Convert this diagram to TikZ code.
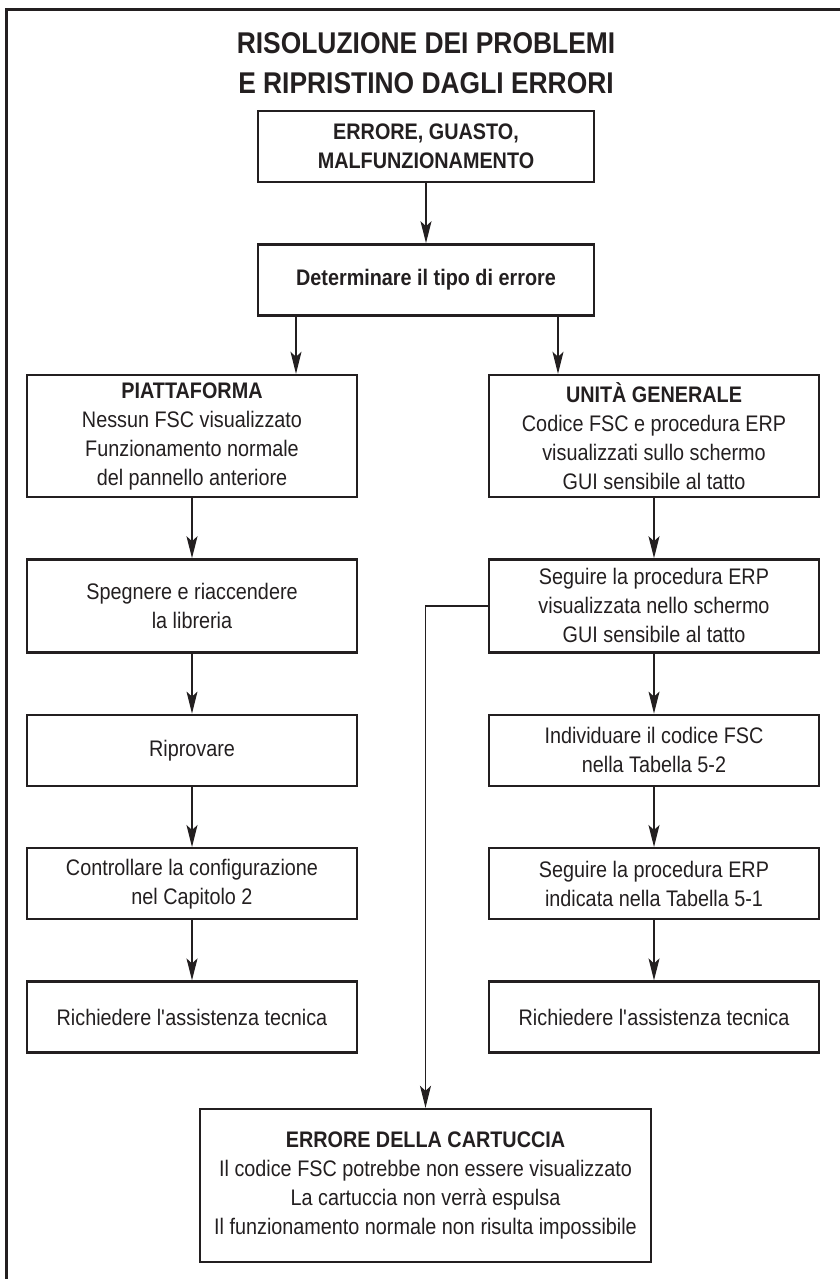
\documentclass[tikz,border=0pt]{standalone}
\usepackage{fontspec}
\setmainfont{Liberation Sans}[FakeStretch=0.88]
\usepackage{tikz}
\usetikzlibrary{positioning, arrows.meta}
\definecolor{ink}{RGB}{35,31,32}

\begin{document}
\begin{tikzpicture}[x=1pt, y=-1pt,
  every node/.style={inner sep=2pt},
  title/.style={font=\fontsize{30}{40}\selectfont\bfseries, text=ink,
                align=center},
  box/.style={draw=ink, line width=2.4pt, text=ink, align=center,
              font=\fontsize{22.5}{29}\selectfont},
  topbox/.style={box, minimum width=336pt, minimum height=71pt},
  sidebox/.style={box, minimum width=330pt, minimum height=71pt},
  headbox/.style={sidebox, minimum height=122pt},
  arrow/.style={-{Stealth[length=22pt, width=11pt, inset=5pt]}, ink,
                line width=1.3pt}]
\useasboundingbox (0,0) rectangle (840,1279);
\draw[ink, line width=3pt] (6,1279) -- (6,10) -- (840,10);

\node[title] (head) at (426,63) {RISOLUZIONE DEI PROBLEMI\\E RIPRISTINO DAGLI ERRORI};
\node[topbox, font=\fontsize{22.5}{29}\selectfont\bfseries] (fault) at (426,146.5)
  {ERRORE, GUASTO,\\MALFUNZIONAMENTO};
\node[topbox, font=\fontsize{22.5}{29}\selectfont\bfseries, below=60pt of fault] (detect)
  {Determinare il tipo di errore};
\draw[arrow] (fault) -- (detect);

% piattaforma
\node[headbox] (plat) at (192,436)
  {\textbf{PIATTAFORMA}\\Nessun FSC visualizzato\\Funzionamento normale\\del pannello anteriore};
\node[sidebox, minimum height=93pt, below=60pt of plat] (power)
  {Spegnere e riaccendere\\la libreria};
\node[sidebox, below=60pt of power] (retry) {Riprovare};
\node[sidebox, below=60pt of retry] (config)
  {Controllare la configurazione\\nel Capitolo 2};
\node[sidebox, below=60pt of config] (helpL) {Richiedere l\textquotesingle assistenza tecnica};
\draw[arrow] ([xshift=104pt]plat.north |- detect.south) -- ([xshift=104pt]plat.north);
\draw[arrow] (plat) -- (power);
\draw[arrow] (power) -- (retry);
\draw[arrow] (retry) -- (config);
\draw[arrow] (config) -- (helpL);

% unita generale
\node[headbox] (unit) at (654,436)
  {\textbf{UNITÀ GENERALE}\\Codice FSC e procedura ERP\\visualizzati sullo schermo\\GUI sensibile al tatto};
\node[sidebox, minimum height=93pt, below=60pt of unit] (erp)
  {Seguire la procedura ERP\\visualizzata nello schermo\\GUI sensibile al tatto};
\node[sidebox, below=60pt of erp] (code)
  {Individuare il codice FSC\\nella Tabella 5-2};
\node[sidebox, below=60pt of code] (table)
  {Seguire la procedura ERP\\indicata nella Tabella 5-1};
\node[sidebox, below=60pt of table] (helpR) {Richiedere l\textquotesingle assistenza tecnica};
\draw[arrow] ([xshift=-96pt]unit.north |- detect.south) -- ([xshift=-96pt]unit.north);
\draw[arrow] (unit) -- (erp);
\draw[arrow] (erp) -- (code);
\draw[arrow] (code) -- (table);
\draw[arrow] (table) -- (helpR);

% cartuccia
\node[box, minimum width=451pt, minimum height=153pt] (cart) at (425.5,1185.5)
  {\textbf{ERRORE DELLA CARTUCCIA}\\Il codice FSC potrebbe non essere visualizzato\\La cartuccia non verrà espulsa\\Il funzionamento normale non risulta impossibile};
\draw[arrow] (erp.west) -| (cart.north);
\end{tikzpicture}
\end{document}
